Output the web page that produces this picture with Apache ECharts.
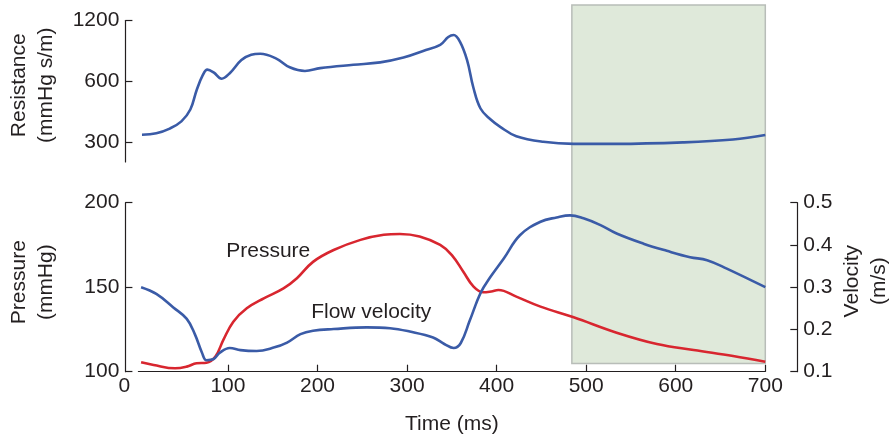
<!DOCTYPE html>
<html><head><meta charset="utf-8">
<script src="https://cdn.jsdelivr.net/npm/echarts@6/dist/echarts.min.js"></script>
<style>html,body{margin:0;padding:0;background:#fff}#c{width:893px;height:436px}</style>
</head><body><div id="c"></div>
<script>
// [time (ms), resistance (mmHg s/m)]
const resistance = [[4,327],[20,333],[35,351],[48,381],[58,436],[65,543],[72,646],[77,686],[84,665],[93,619],[102,659],[115,765],[126,813],[136,822],[154,778],[169,705],[186,676],[203,698],[240,725],[270,745],[296,787],[318,849],[337,910],[346,994],[352,1017],[359,944],[367,765],[374,560],[382,441],[393,390],[404,358],[422,322],[452,302],[486,295],[534,295],[608,300],[664,310],[700,326]];
// [time (ms), pressure (mmHg)]
const pressure = [[3,105.6],[17,104],[41,102],[54,103],[65,105],[76,105.3],[86,109],[95,119],[106,129.6],[121,137.5],[140,143.4],[162,149.3],[177,155.3],[195,165],[218,172],[248,178],[274,181],[292,181.5],[314,180],[337,175],[350,169],[363,159],[374,150.5],[385,147],[394,147.5],[402,148.3],[422,144.4],[449,138.5],[486,132.2],[534,123.1],[579,116.4],[620,112.8],[664,109.3],[700,105.9]];
// [time (ms), flow velocity (m/s)]
const velocity = [[3,0.300],[20,0.284],[39,0.252],[54,0.225],[63,0.189],[71,0.145],[76,0.127],[84,0.130],[91,0.145],[102,0.156],[114,0.151],[132,0.149],[151,0.157],[166,0.169],[181,0.189],[195,0.197],[218,0.201],[255,0.205],[281,0.203],[303,0.195],[329,0.181],[342,0.165],[352,0.156],[360,0.168],[370,0.221],[382,0.286],[393,0.324],[408,0.368],[426,0.423],[449,0.455],[467,0.465],[482,0.470],[497,0.463],[516,0.447],[534,0.427],[564,0.403],[590,0.386],[616,0.371],[635,0.364],[657,0.344],[700,0.300]];
const resistanceTicks = [300, 600, 1200];
const shadeRange = [484, 700];
const pressureLabelAt = [145, 171.4];
const velocityLabelAt = [260, 0.240];

const FONT = 'Liberation Sans';
const FS = 21;
const INK = '#231f20';
const BLUE = '#3a5ba7';
const RED = '#d8262f';
const axisLine = {show: true, onZero: false, lineStyle: {color: INK, width: 1.2}};
const axisTick = {show: true, inside: true, length: 7, lineStyle: {color: INK, width: 1.2}};
const axisLabel = {color: INK, fontSize: FS, fontFamily: FONT, margin: 6};
const nameStyle = {color: INK, fontSize: FS, fontFamily: FONT, lineHeight: 27};
const G = {left: 138.4, right: 127.7, outerBoundsMode: 'none', containLabel: false};

const chart = echarts.init(document.getElementById('c'), null, {renderer: 'canvas'});
chart.setOption({
  animation: false,
  backgroundColor: '#fff',
  grid: [
    Object.assign({top: 20.5, height: 141.5}, G),
    Object.assign({top: 202.7, height: 169}, G),
    Object.assign({top: 5, height: 358.5}, G)
  ],
  xAxis: [
    {type: 'value', gridIndex: 0, min: 0, max: 700, show: false},
    {type: 'value', gridIndex: 1, min: 0, max: 700, interval: 100,
      axisLine: axisLine,
      axisTick: Object.assign({}, axisTick, {customValues: [100,200,300,400,500,600,700]}),
      splitLine: {show: false},
      axisLabel: Object.assign({}, axisLabel, {
        margin: 4,
        formatter: v => v === 0 ? '{z|0}' : String(v),
        rich: {z: {fontSize: FS, fontFamily: FONT, color: INK, padding: [0, 28, 0, 0]}}
      }),
      name: 'Time (ms)', nameLocation: 'middle', nameGap: 42, nameMoveOverlap: false,
      nameTextStyle: {color: INK, fontSize: FS, fontFamily: FONT}
    },
    {type: 'value', gridIndex: 2, min: 0, max: 700, show: false}
  ],
  yAxis: [
    {type: 'log', logBase: 2, gridIndex: 0, min: 240, max: 1200, offset: 13,
      axisLine: axisLine,
      axisTick: Object.assign({}, axisTick, {customValues: resistanceTicks}),
      axisLabel: Object.assign({}, axisLabel, {customValues: resistanceTicks, formatter: v => String(v)}),
      splitLine: {show: false}, minorTick: {show: false},
      name: 'Resistance\n(mmHg s/m)', nameLocation: 'middle', nameRotate: 90, nameGap: 66, nameMoveOverlap: false,
      nameTextStyle: Object.assign({}, nameStyle, {padding: [0, 0, 0, 12]})
    },
    {type: 'value', gridIndex: 1, min: 100, max: 200, interval: 50, offset: 13,
      axisLine: axisLine, axisTick: axisTick, axisLabel: axisLabel,
      splitLine: {show: false},
      name: 'Pressure\n(mmHg)', nameLocation: 'middle', nameRotate: 90, nameGap: 66, nameMoveOverlap: false,
      nameTextStyle: Object.assign({}, nameStyle, {padding: [0, 0, 0, 10]})
    },
    {type: 'value', gridIndex: 1, position: 'right', min: 0.1, max: 0.5, interval: 0.1, offset: 32,
      axisLine: axisLine, axisTick: axisTick,
      axisLabel: Object.assign({}, axisLabel, {formatter: v => v.toFixed(1)}),
      splitLine: {show: false},
      name: 'Velocity\n(m/s)', nameLocation: 'middle', nameRotate: 90, nameGap: 41, nameMoveOverlap: false,
      nameTextStyle: Object.assign({}, nameStyle, {padding: [0, 0, 0, 12]})
    },
    {type: 'value', gridIndex: 2, min: 0, max: 1, show: false}
  ],
  series: [
    {type: 'line', xAxisIndex: 2, yAxisIndex: 3, data: [[shadeRange[0], 0.5]], symbol: 'none',
      lineStyle: {opacity: 0}, silent: true, z: 1,
      markArea: {silent: true,
        itemStyle: {color: '#dfe9da', borderColor: '#b8bdb8', borderWidth: 1.5},
        data: [[{xAxis: shadeRange[0]}, {xAxis: shadeRange[1]}]]}
    },
    {type: 'line', name: 'Resistance', xAxisIndex: 0, yAxisIndex: 0, data: resistance,
      smooth: 0.4, symbol: 'none', z: 3, lineStyle: {color: BLUE, width: 2.6}},
    {type: 'line', name: 'Pressure', xAxisIndex: 1, yAxisIndex: 1, data: pressure,
      smooth: 0.4, symbol: 'none', z: 3, lineStyle: {color: RED, width: 2.6},
      markPoint: {symbol: 'circle', symbolSize: 0, silent: true,
        label: {show: true, position: 'inside', formatter: 'Pressure', color: INK, fontSize: FS, fontFamily: FONT},
        data: [{coord: pressureLabelAt}]}
    },
    {type: 'line', name: 'Flow velocity', xAxisIndex: 1, yAxisIndex: 2, data: velocity,
      smooth: 0.4, symbol: 'none', z: 3, lineStyle: {color: BLUE, width: 2.6},
      markPoint: {symbol: 'circle', symbolSize: 0, silent: true,
        label: {show: true, position: 'inside', formatter: 'Flow velocity', color: INK, fontSize: FS, fontFamily: FONT},
        data: [{coord: velocityLabelAt}]}
    }
  ]
});
</script>
</body></html>
